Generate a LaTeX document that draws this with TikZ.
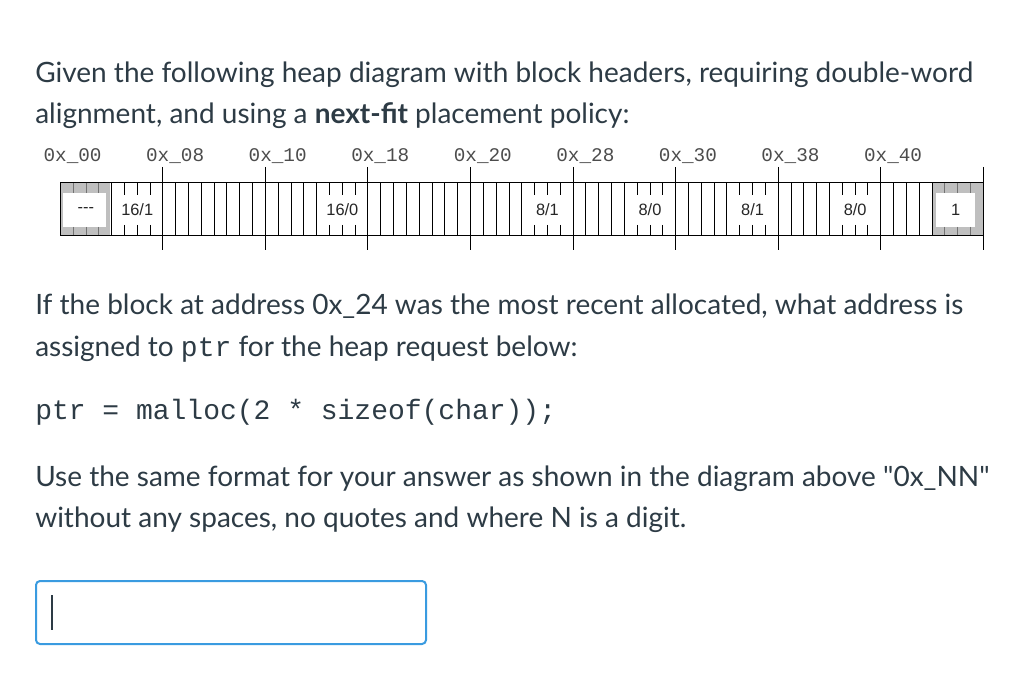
\documentclass[tikz,border=0pt]{standalone}
\usepackage{fontspec}
\setmainfont{Lato}[Ligatures=TeXOff]
\newfontfamily\monofont{Liberation Mono}
\newfontfamily\arialfont{Liberation Sans}
\definecolor{txt}{HTML}{2D3B45}
\definecolor{boxblue}{HTML}{3A9BE0}
\tikzset{
  body/.style={anchor=base west, inner sep=0pt, text=txt, font=\fontsize{21}{24}\selectfont},
  code/.style={anchor=base west, inner sep=0pt, text=txt, font=\monofont\fontsize{21}{22}\selectfont},
  addr/.style={anchor=base west, inner sep=0pt, text=black!70, font=\monofont\fontsize{14.5}{16}\selectfont},
  hdr/.style={inner sep=0pt, text=black!85, font=\arialfont\fontsize{12.3}{14}\selectfont},
  grid/.style={black, line width=0.75pt},
}
\begin{document}
\begin{tikzpicture}[x=0.75pt,y=-0.75pt]
\useasboundingbox (0,0) rectangle (1024,695);
\fill[white] (0,0) rectangle (1024,695);
% text
\node[body] (l1) at (35,82.5) {Given the following heap diagram with block headers, requiring double-word};
\node[body] (l2) at (35,123.5) {alignment, and using a \textbf{next-fit} placement policy:};
\node[body] (l3) at (35,314) {If the block at address 0x\_24 was the most recent allocated, what address is};
\node[body] (l4) at (35,356) {assigned to {\monofont\fontsize{21}{22}\selectfont ptr} for the heap request below:};
\node[code] (c1) at (35,419) {ptr = malloc(2 * sizeof(char));};
\node[body] (l5) at (35,486) {Use the same format for your answer as shown in the diagram above "0x\_NN"};
\node[body] (l6) at (35,527.5) {without any spaces, no quotes and where N is a digit.};
% answer box
\draw[boxblue, line width=1.5pt, rounded corners=3pt] (36,581) rectangle (426,644);
\coordinate (ct) at (52,595);
\coordinate (cb) at (52,630);
\draw[txt, line width=1.3pt] (ct) -- (cb);
% heap strip
% gray boxes
\fill[black!25] ({60.3},183) rectangle ({60.3+4*12.82-2},236);
\fill[white] ({60.3+3},193) rectangle ({60.3+4*12.82-6},227);
\fill[black!25] ({60.3+68*12.82+1},183) rectangle ({60.3+72*12.82},236);
\fill[white] ({60.3+68*12.82+4},193) rectangle ({60.3+72*12.82-8},227);
\foreach \n in {1,2,3,69,70,71}{
  \draw[black!55, line width=0.6pt] ({60.3+\n*12.82},183) -- ({60.3+\n*12.82},193);
  \draw[black!55, line width=0.6pt] ({60.3+\n*12.82},227) -- ({60.3+\n*12.82},236);
}
% full byte lines
\foreach \n in {4,8,9,...,20,24,25,...,36,40,41,42,43,44,48,49,50,51,52,56,57,58,59,60,64,65,66,67,68}{
  \draw[grid] ({60.3+\n*12.82},183) -- ({60.3+\n*12.82},236);
}
% header ticks
\foreach \n in {5,6,7,21,22,23,37,38,39,45,46,47,53,54,55,61,62,63}{
  \draw[grid] ({60.3+\n*12.82},183) -- ({60.3+\n*12.82},195);
  \draw[grid] ({60.3+\n*12.82},225) -- ({60.3+\n*12.82},236);
}
% outline
\draw[grid] ({60.3},183) rectangle ({60.3+72*12.82},236);
% long address lines
\foreach \n in {8,16,...,72}{
  \draw[grid] ({60.3+\n*12.82},167) -- ({60.3+\n*12.82},250);
}
% address labels
\foreach \n/\t in {0/00,8/08,16/10,24/18,32/20,40/28,48/30,56/38,64/40}{
  \node[addr] at ({60.3+\n*12.82-17},162) {0x\_\t};
}
% header labels
\node[hdr] (p0) at ({60.3+2*12.82},210) {{-}{-}{-}};
\node[hdr] (h1) at ({60.3+6*12.82},210) {16/1};
\node[hdr] (h2) at ({60.3+22*12.82},210) {16/0};
\node[hdr] (h3) at ({60.3+38*12.82},210) {8/1};
\node[hdr] (h4) at ({60.3+46*12.82},210) {8/0};
\node[hdr] (h5) at ({60.3+54*12.82},210) {8/1};
\node[hdr] (h6) at ({60.3+62*12.82},210) {8/0};
\node[hdr] (e0) at ({60.3+70*12.82-2},210) {1};
\end{tikzpicture}
\end{document}
